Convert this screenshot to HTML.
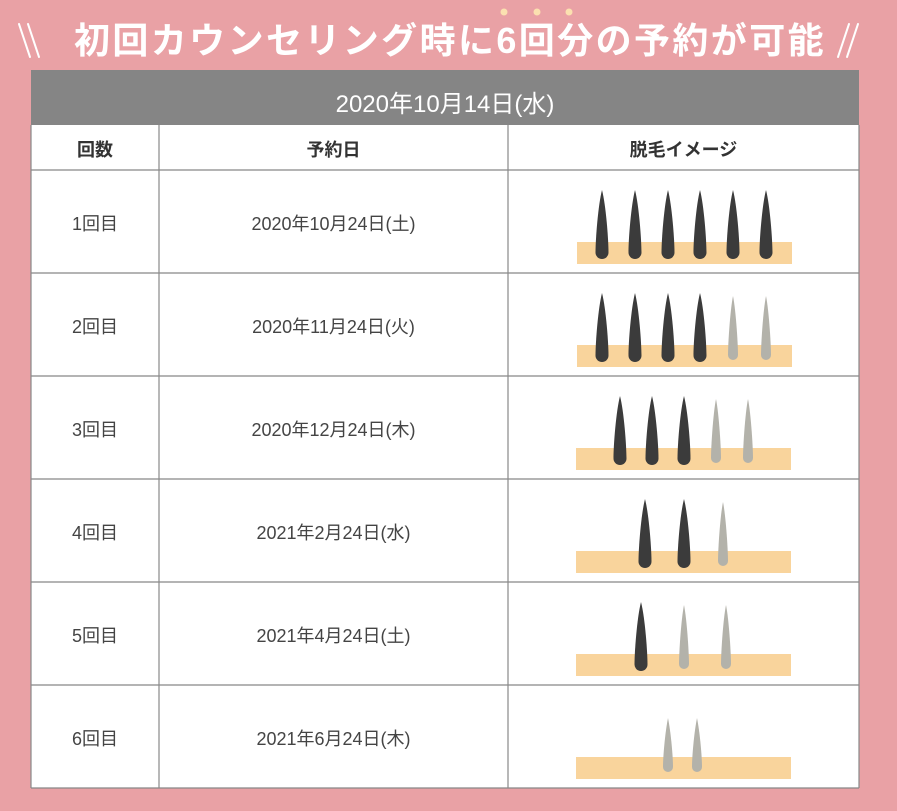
<!DOCTYPE html>
<html><head><meta charset="utf-8"><style>
body{margin:0;width:897px;height:811px;background:#e9a1a5;position:relative;overflow:hidden;font-family:"Liberation Sans","Noto Sans CJK JP",sans-serif}
.t{position:absolute;text-align:center;color:#444;font-size:18px}
</style></head><body>
<div class="t" style="left:40px;top:16px;width:820px;font-size:36px;font-weight:bold;color:#fff;letter-spacing:2.4px;line-height:50px">初回カウンセリング時に6回分の予約が可能</div>
<svg width="897" height="811" style="position:absolute;left:0;top:0" id="s">
<circle cx="504" cy="12" r="3.5" fill="#fbe0b0"/><circle cx="537" cy="12" r="3.5" fill="#fbe0b0"/><circle cx="569" cy="12" r="3.5" fill="#fbe0b0"/>
<g stroke="#fff" stroke-width="2" stroke-linecap="round"><line x1="19" y1="24" x2="30" y2="57"/><line x1="28" y1="24" x2="39" y2="57"/><line x1="849" y1="24" x2="838" y2="57"/><line x1="858" y1="24" x2="847" y2="57"/></g>
<rect x="31" y="70" width="828" height="55" fill="#858585"/>
<rect x="31" y="125" width="828" height="663" fill="#fff"/>
<g stroke="#888" stroke-width="1.2" fill="none">
<line x1="31" y1="170" x2="859" y2="170"/><line x1="31" y1="273" x2="859" y2="273"/><line x1="31" y1="376" x2="859" y2="376"/><line x1="31" y1="479" x2="859" y2="479"/><line x1="31" y1="582" x2="859" y2="582"/><line x1="31" y1="685" x2="859" y2="685"/><line x1="31" y1="788" x2="859" y2="788"/>
<line x1="31" y1="125" x2="31" y2="788"/><line x1="859" y1="125" x2="859" y2="788"/><line x1="159" y1="125" x2="159" y2="788"/><line x1="508" y1="125" x2="508" y2="788"/>
</g>
<g id="h"></g>
</svg>
<div class="t" style="left:31px;top:84px;width:828px;font-size:24px;color:#fff">2020年10月14日(水)</div>
<div class="t" style="left:31px;top:136px;width:128px;font-weight:bold;color:#333">回数</div>
<div class="t" style="left:159px;top:136px;width:349px;font-weight:bold;color:#333">予約日</div>
<div class="t" style="left:508px;top:136px;width:351px;font-weight:bold;color:#333">脱毛イメージ</div>
<div class="t" style="left:31px;top:210px;width:128px">1回目</div><div class="t" style="left:159px;top:210px;width:349px">2020年10月24日(土)</div>
<div class="t" style="left:31px;top:313px;width:128px">2回目</div><div class="t" style="left:159px;top:313px;width:349px">2020年11月24日(火)</div>
<div class="t" style="left:31px;top:416px;width:128px">3回目</div><div class="t" style="left:159px;top:416px;width:349px">2020年12月24日(木)</div>
<div class="t" style="left:31px;top:519px;width:128px">4回目</div><div class="t" style="left:159px;top:519px;width:349px">2021年2月24日(水)</div>
<div class="t" style="left:31px;top:622px;width:128px">5回目</div><div class="t" style="left:159px;top:622px;width:349px">2021年4月24日(土)</div>
<div class="t" style="left:31px;top:725px;width:128px">6回目</div><div class="t" style="left:159px;top:725px;width:349px">2021年6月24日(木)</div>
<script>
var rows=[[170,577,[602,635,668,700,733,766],[]],[273,577,[602,635,668,700],[733,766]],[376,576,[620,652,684],[716,748]],[479,576,[645,684],[723]],[582,576,[641],[684,726]],[685,576,[],[668,697]]];
var s='';
function hair(cx,t,b,w,c){return '<path d="M'+cx+','+t+' C'+(cx+w*0.6)+','+(t+15)+' '+(cx+w)+','+(b-w*3)+' '+(cx+w)+','+(b-w)+' A'+w+','+w+' 0 0 1 '+(cx-w)+','+(b-w)+' C'+(cx-w)+','+(b-w*3)+' '+(cx-w*0.6)+','+(t+15)+' '+cx+','+t+'Z" fill="'+c+'"/>';}
rows.forEach(function(r,i){var y=r[0];
s+='<rect x="'+r[1]+'" y="'+(y+72)+'" width="215" height="22" fill="#f9d49c"/>';
r[2].forEach(function(x){s+=hair(x,y+20,y+89,6.5,'#3b3b3b')});
r[3].forEach(function(x){s+=hair(x,y+(i==5?33:23),y+87,5,'#b3b2aa')});
});
document.getElementById('h').innerHTML=s;
</script>
</body></html>
